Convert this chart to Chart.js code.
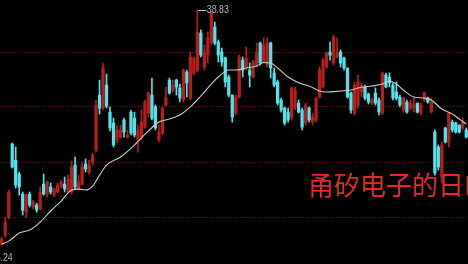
<!DOCTYPE html>
<html>
<head>
<meta charset="utf-8">
<script src="https://cdn.jsdelivr.net/npm/chart.js@4.4.0/dist/chart.umd.min.js"></script>
<style>
    html, body { margin: 0; padding: 0; background: #000; overflow: hidden; }
    canvas { display: block; }
</style>
</head>
<body>
<canvas id="kline" width="468" height="264"></canvas>
<script>
// daily candles (price)
const opens = [24.30, 24.86, 25.97, 30.51, 29.51, 28.64, 27.40, 26.28, 27.40, 26.60,
    26.72, 26.47, 28.02, 27.40, 27.84, 27.34, 27.53, 27.84, 28.02, 27.53,
    27.53, 29.20, 27.71, 28.02, 29.27, 28.77, 29.39, 30.14, 33.55, 32.74,
    34.17, 32.49, 31.81, 30.76, 30.94, 32.00, 30.94, 32.49, 32.12, 30.76,
    30.94, 31.56, 32.43, 33.55, 32.81, 30.76, 31.19, 32.93, 34.48, 33.86,
    34.48, 33.99, 33.24, 34.98, 33.36, 34.92, 35.10, 37.40, 35.29, 36.03,
    36.78, 37.77, 36.84, 36.22, 35.85, 34.67, 33.55, 32.43, 33.43, 35.72,
    35.29, 35.10, 34.67, 35.41, 36.78, 35.60, 35.41, 36.78, 34.92, 34.36,
    33.24, 32.74, 32.49, 32.18, 32.74, 33.05, 32.62, 31.81, 32.74, 31.87,
    32.00, 33.43, 34.05, 35.29, 36.22, 35.54, 35.91, 36.22, 35.85, 35.23,
    33.67, 32.43, 32.93, 33.74, 34.05, 33.61, 33.05, 33.67, 33.24, 32.43,
    34.79, 34.67, 34.17, 33.74, 33.43, 32.62, 33.12, 32.74, 32.74, 33.05,
    32.43, 33.24, 33.36, 32.49, 31.25, 30.32, 28.46, 31.50, 30.57, 31.87,
    31.81, 31.69, 31.50, 31.38]
const closes = [24.61, 25.66, 27.53, 29.08, 27.96, 27.84, 26.41, 27.34, 26.72, 26.91,
    26.41, 27.53, 27.40, 28.15, 27.53, 27.71, 27.96, 28.15, 27.71, 28.33,
    29.08, 27.84, 28.15, 29.08, 28.95, 29.20, 29.83, 32.93, 32.74, 35.23,
    32.87, 31.50, 30.45, 31.38, 31.38, 31.25, 31.07, 31.19, 31.07, 31.38,
    31.87, 33.12, 33.67, 32.12, 31.50, 31.25, 32.74, 33.36, 33.67, 34.17,
    34.05, 33.36, 35.10, 34.30, 35.91, 35.85, 37.46, 36.03, 36.22, 37.09,
    38.70, 36.78, 36.03, 35.60, 34.36, 33.55, 32.18, 33.43, 35.91, 35.10,
    35.85, 34.79, 35.60, 36.16, 35.54, 36.66, 36.78, 35.23, 34.17, 33.05,
    32.62, 31.81, 32.00, 33.99, 33.86, 32.49, 31.56, 32.93, 32.00, 32.18,
    33.36, 35.10, 35.72, 36.16, 36.03, 37.15, 36.16, 35.54, 35.23, 33.43,
    32.62, 34.17, 34.36, 34.17, 33.36, 33.12, 33.30, 33.05, 32.49, 34.92,
    34.05, 34.30, 33.36, 33.36, 32.93, 33.36, 32.49, 33.05, 32.93, 32.49,
    32.93, 33.67, 33.12, 33.12, 28.71, 29.08, 30.45, 30.63, 32.43, 31.38,
    31.25, 31.25, 31.87, 30.94]
const highs = [24.73, 25.97, 27.65, 30.57, 30.32, 28.77, 27.53, 27.40, 27.53, 27.03,
    26.84, 27.84, 28.64, 28.21, 28.09, 27.78, 28.09, 28.27, 28.46, 28.58,
    29.45, 29.70, 28.58, 29.39, 29.58, 29.51, 29.95, 33.24, 34.48, 35.54,
    34.85, 32.81, 32.12, 31.69, 31.69, 32.12, 31.38, 32.62, 32.49, 31.69,
    32.62, 33.24, 33.74, 34.61, 32.93, 31.69, 32.81, 34.05, 34.61, 34.48,
    34.54, 34.23, 35.17, 35.10, 36.22, 35.91, 38.83, 37.59, 36.66, 37.46,
    38.75, 38.08, 36.97, 36.47, 35.91, 34.79, 33.55, 33.55, 36.03, 35.91,
    36.53, 35.54, 35.72, 36.78, 36.84, 37.09, 37.09, 36.84, 35.23, 34.48,
    33.36, 32.81, 32.74, 34.05, 34.05, 33.24, 32.74, 33.05, 32.81, 32.43,
    33.43, 35.29, 35.85, 36.22, 36.84, 37.28, 37.09, 36.35, 35.91, 35.23,
    33.74, 34.36, 34.79, 34.30, 34.17, 33.67, 33.36, 33.99, 33.36, 34.98,
    34.92, 34.92, 34.30, 34.36, 33.55, 33.43, 33.24, 33.24, 33.36, 33.05,
    33.05, 33.74, 33.43, 33.36, 31.38, 30.45, 30.63, 31.56, 32.49, 32.00,
    31.87, 31.69, 32.12, 31.50]
const lows = [24.24, 24.73, 25.85, 29.02, 27.78, 27.34, 26.10, 25.97, 26.60, 26.47,
    26.28, 26.41, 27.34, 27.22, 27.40, 27.22, 27.46, 27.78, 27.53, 27.46,
    27.40, 27.71, 27.65, 27.96, 28.77, 28.64, 29.20, 30.01, 32.37, 32.62,
    32.74, 31.32, 30.32, 30.57, 30.88, 30.94, 30.88, 31.07, 30.94, 30.01,
    30.76, 31.50, 32.18, 32.00, 31.38, 30.63, 31.07, 32.81, 33.61, 33.74,
    33.55, 33.12, 33.12, 33.43, 33.24, 34.79, 34.98, 35.91, 35.10, 35.54,
    36.66, 36.66, 35.60, 35.35, 34.05, 33.43, 31.87, 32.31, 33.36, 34.67,
    35.10, 34.05, 34.61, 35.29, 35.41, 35.54, 35.29, 34.61, 34.05, 32.93,
    32.49, 31.69, 31.87, 32.00, 32.62, 32.43, 31.38, 31.69, 31.87, 31.69,
    31.87, 33.36, 33.99, 35.23, 35.72, 35.41, 35.85, 35.29, 35.10, 33.36,
    32.43, 32.31, 32.74, 33.43, 33.24, 32.99, 32.93, 32.93, 32.31, 32.31,
    33.99, 34.05, 33.24, 33.24, 32.81, 32.49, 32.43, 32.62, 32.49, 32.43,
    32.31, 33.12, 33.05, 32.43, 28.58, 28.89, 28.09, 30.57, 30.32, 31.25,
    31.19, 31.19, 31.38, 30.88]

// moving average line, sampled at some candles (candle index / price)
const maIndex = [0, 2, 5, 8, 11, 14, 17, 20, 22, 24, 26, 28, 30, 34, 38, 42, 45, 48, 51, 54,
    57, 60, 62, 65, 67, 70, 73, 75, 77, 79, 82, 84, 86, 88, 91, 93, 97, 100, 102, 106,
    109, 111, 113, 115, 118, 121, 123, 126, 129, 131, 133]
const maValue = [24.30, 24.48, 24.98, 25.17, 25.66, 26.35, 26.97, 27.65, 27.71, 27.65,
    27.90, 28.58, 29.20, 29.70, 30.45, 31.32, 31.87, 32.06, 32.31, 32.81,
    33.49, 34.23, 34.67, 35.10, 35.10, 35.23, 35.35, 35.57, 35.54, 35.23,
    34.67, 34.42, 34.23, 34.11, 33.80, 33.74, 33.80, 33.86, 33.99, 34.11,
    34.23, 34.42, 34.23, 33.86, 33.43, 33.36, 33.24, 32.68, 32.37, 32.06, 31.75]

// dotted grid lines
const gridPrices = [25.97, 29.39, 32.81, 36.22]

const title = "甬矽电子的日K线"

const UP = '#b81d1d'
const DOWN = '#52e4ea'

const days = opens.map((o, i) => i + 1)
const colors = opens.map((o, i) => closes[i] >= o ? UP : DOWN)
const bodies = opens.map((o, i) => [o, closes[i]])
const wicks = lows.map((l, i) => [l, highs[i]])
const maData = days.map(() => null)
maIndex.forEach((idx, k) => { maData[idx] = maValue[k] })

const topIdx = highs.indexOf(Math.max(...highs))
const lowIdx = lows.indexOf(Math.min(...lows))

const markers = {
    id: 'markers',
    afterDraw(chart) {
        const ctx = chart.ctx
        const xs = chart.scales.x
        const ys = chart.scales.y
        ctx.save()
        // highest price
        let px = xs.getPixelForValue(topIdx)
        let py = ys.getPixelForValue(highs[topIdx])
        ctx.strokeStyle = '#c8c8c8'
        ctx.lineWidth = 1
        ctx.beginPath()
        ctx.moveTo(px + 1, Math.round(py) + 0.5)
        ctx.lineTo(px + 9, Math.round(py) + 0.5)
        ctx.stroke()
        ctx.fillStyle = '#aeb6c4'
        ctx.font = '10.5px "Liberation Sans"'
        ctx.textBaseline = 'middle'
        ctx.textAlign = 'left'
        ctx.fillText(highs[topIdx].toFixed(2), px + 9.5, py, 22)
        // lowest price
        px = xs.getPixelForValue(lowIdx)
        py = ys.getPixelForValue(lows[lowIdx])
        ctx.textAlign = 'right'
        ctx.fillText(lows[lowIdx].toFixed(2), px + 11, py + 13, 22)
        // name
        ctx.fillStyle = '#e62828'
        ctx.font = '26px "Noto Sans CJK SC"'
        ctx.textAlign = 'left'
        ctx.fillText(title, 308, 185)
        ctx.restore()
    }
}

new Chart(document.getElementById('kline'), {
    type: 'bar',
    data: {
        labels: days,
        datasets: [
            {
                type: 'line',
                data: maData,
                borderColor: '#cccccc',
                borderWidth: 1.1,
                pointRadius: 0,
                spanGaps: true,
                cubicInterpolationMode: 'monotone'
            },
            {
                data: bodies,
                backgroundColor: colors,
                barThickness: 2.6,
                minBarLength: 1,
                grouped: false
            },
            {
                data: wicks,
                backgroundColor: colors,
                barThickness: 1,
                grouped: false
            }
        ]
    },
    options: {
        responsive: false,
        animation: false,
        devicePixelRatio: 1,
        layout: { padding: 0 },
        plugins: {
            legend: { display: false },
            tooltip: { enabled: false }
        },
        scales: {
            x: { display: false, offset: true },
            y: {
                min: 23.06,
                max: 39.45,
                ticks: { display: false },
                grid: { color: '#661010', drawTicks: false },
                border: { display: false, dash: [1, 2] },
                afterBuildTicks: s => { s.ticks = gridPrices.map(v => ({ value: v })) },
                afterFit: s => { s.width = 0 }
            }
        }
    },
    plugins: [markers]
})
</script>
</body>
</html>
